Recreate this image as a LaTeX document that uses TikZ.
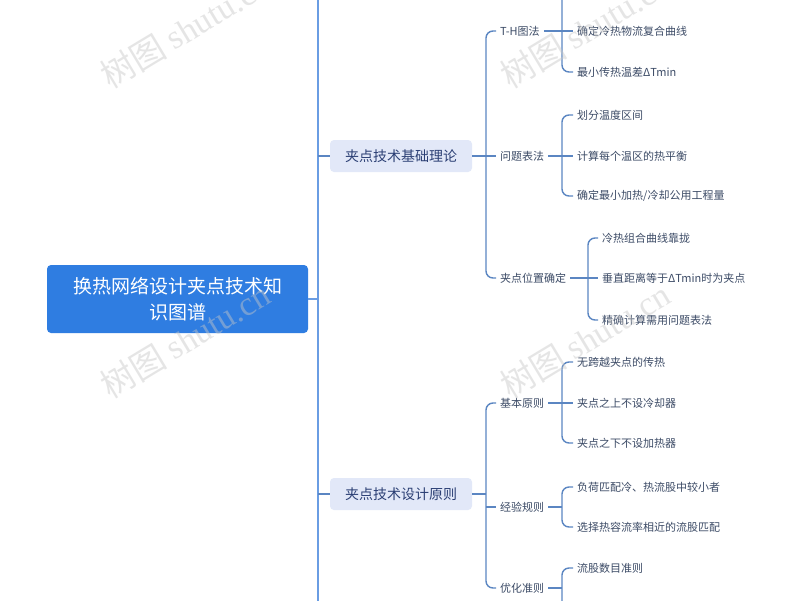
\documentclass[tikz,border=0pt]{standalone}
\usepackage{fontspec}
\setmainfont{Noto Sans CJK SC}
\newfontfamily\wmserif{Liberation Serif}
\usetikzlibrary{calc}
\definecolor{rootblue}{HTML}{2F7DE1}
\definecolor{lonefill}{HTML}{E2E8F8}
\definecolor{lonetext}{HTML}{2B3F74}
\definecolor{leaftext}{HTML}{3C4B66}
\definecolor{spineblue}{HTML}{6A9DE3}
\definecolor{linkblue}{HTML}{5B86C2}
\tikzset{
  rootbox/.style={fill=rootblue, text=white, rounded corners=4pt, minimum width=261pt,
    minimum height=68pt, align=center, inner sep=0pt, font=\fontsize{19}{26}\selectfont},
  lonebox/.style={fill=lonefill, text=lonetext, rounded corners=4pt, minimum width=142pt,
    minimum height=32pt, inner sep=0pt, font=\fontsize{14}{16}\selectfont},
  leaf/.style={anchor=west, inner sep=0pt, text=leaftext, font=\fontsize{11}{13}\selectfont},
  mainspine/.style={draw=spineblue, line width=1.8pt},
  spine/.style={draw=linkblue, line width=1.4pt, rounded corners=7pt},
  wmark/.style={anchor=base west, rotate=31, inner sep=0pt, text=black!22, opacity=0.45,
    font=\fontsize{34}{36}\selectfont}
}
\begin{document}
\begin{tikzpicture}[x=1pt,y=-1pt]
\clip (0,0) rectangle (800,600);
\fill[white] (0,0) rectangle (800,600);

% root
\node[rootbox] (root) at (177.5,299) {换热网络设计夹点技术知\\识图谱};
\coordinate (s0a) at (318,-20);
\coordinate (s0b) at (318,620);
\draw[mainspine] (s0a) -- (s0b);
\draw[mainspine] (root.east) -- (s0a |- root.east);

% level 1
\node[lonebox] (b1) at (401,156) {夹点技术基础理论};
\node[lonebox] (b2) at (401,494) {夹点技术设计原则};
\draw[spine] (s0a |- b1.west) -- (b1.west);
\draw[spine] (s0a |- b2.west) -- (b2.west);

% spines x positions
\coordinate (s1) at (486,0);
\coordinate (s2) at (562,0);
\coordinate (s3) at (588,0);

% level 2 of b1
\node[leaf] (th) at (500,31) {T-H图法};
\node[leaf] (wt) at (500,156) {问题表法};
\node[leaf] (jd) at (500,278) {夹点位置确定};
\draw[spine] ([xshift=-4pt]th.west) -| (s1 |- jd.west) -- ([xshift=-4pt]jd.west);
\draw[spine] (b1.east) -- ([xshift=-4pt]wt.west);

% T-H group
\node[leaf] (th2) at (577,31) {确定冷热物流复合曲线};
\node[leaf] (th3) at (577,72) {最小传热温差ΔTmin};
\coordinate (thtop) at (562,-30);
\draw[spine] (thtop) |- ([xshift=-4pt]th3.west);
\draw[spine] ([xshift=4pt]th.east) -- ([xshift=-4pt]th2.west);

% 问题表法 group
\node[leaf] (wt1) at (577,115) {划分温度区间};
\node[leaf] (wt2) at (577,156) {计算每个温区的热平衡};
\node[leaf] (wt3) at (577,196) {确定最小加热/冷却公用工程量};
\draw[spine] ([xshift=-4pt]wt1.west) -| (s2 |- wt3.west) -- ([xshift=-4pt]wt3.west);
\draw[spine] ([xshift=4pt]wt.east) -- ([xshift=-4pt]wt2.west);

% 夹点位置确定 group
\node[leaf] (jd1) at (602,238) {冷热组合曲线靠拢};
\node[leaf] (jd2) at (602,278) {垂直距离等于ΔTmin时为夹点};
\node[leaf] (jd3) at (602,320) {精确计算需用问题表法};
\draw[spine] ([xshift=-4pt]jd1.west) -| (s3 |- jd3.west) -- ([xshift=-4pt]jd3.west);
\draw[spine] ([xshift=4pt]jd.east) -- ([xshift=-4pt]jd2.west);

% level 2 of b2
\node[leaf] (jb) at (500,403) {基本原则};
\node[leaf] (jy) at (500,507) {经验规则};
\node[leaf] (jo) at (500,588) {优化准则};
\draw[spine] ([xshift=-4pt]jb.west) -| (s1 |- jo.west) -- ([xshift=-4pt]jo.west);
\draw[spine] (b2.east) -- (s1 |- b2.east);
\draw[spine] (s1 |- jy.west) -- ([xshift=-4pt]jy.west);

% 基本原则 group
\node[leaf] (jb1) at (577,362) {无跨越夹点的传热};
\node[leaf] (jb2) at (577,403) {夹点之上不设冷却器};
\node[leaf] (jb3) at (577,443) {夹点之下不设加热器};
\draw[spine] ([xshift=-4pt]jb1.west) -| (s2 |- jb3.west) -- ([xshift=-4pt]jb3.west);
\draw[spine] ([xshift=4pt]jb.east) -- ([xshift=-4pt]jb2.west);

% 经验规则 group
\node[leaf] (jy1) at (577,487) {负荷匹配冷、热流股中较小者};
\node[leaf] (jy2) at (577,527) {选择热容流率相近的流股匹配};
\draw[spine] ([xshift=-4pt]jy1.west) -| (s2 |- jy2.west) -- ([xshift=-4pt]jy2.west);
\draw[spine] ([xshift=4pt]jy.east) -- (s2 |- jy.east);

% 优化准则 group
\node[leaf] (jo1) at (577,568) {流股数目准则};
\coordinate (jobot) at (562,640);
\draw[spine] ([xshift=-4pt]jo1.west) -| (jobot);
\draw[spine] ([xshift=4pt]jo.east) -- (s2 |- jo.east);

% watermarks
\node[wmark] (w1) at (110,90) {树图 {\wmserif shutu.cn}};
\node[wmark] (w2) at (510,90) {树图 {\wmserif shutu.cn}};
\node[wmark] (w3) at (110,400) {树图 {\wmserif shutu.cn}};
\node[wmark] (w4) at (510,400) {树图 {\wmserif shutu.cn}};
\end{tikzpicture}
\end{document}
